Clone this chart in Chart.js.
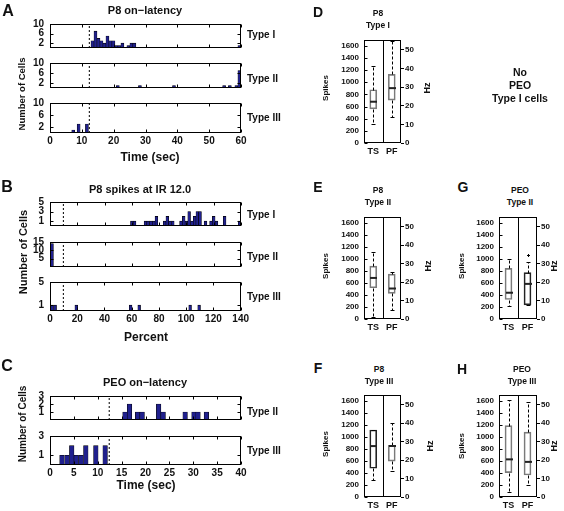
<!DOCTYPE html>
<html>
<head>
<meta charset="utf-8">
<script src="https://cdn.jsdelivr.net/npm/chart.js@4.4.1/dist/chart.umd.min.js"></script>
<style>
  body { margin: 0; width: 564px; height: 511px; background: #fff; position: relative; overflow: hidden;
         font-family: 'Liberation Sans', Arial, Helvetica, sans-serif; font-weight: bold; color: #111; }
  canvas { position: absolute; }
  .t { position: absolute; white-space: nowrap; line-height: 1; transform: translate(-50%, -50%); }
  .l { position: absolute; white-space: nowrap; line-height: 1; transform: translate(0, -50%); }
  .r { transform: translate(-50%, -50%) rotate(-90deg); }
</style>
</head>
<body>
<script>
// ---- A: P8 on-latency (sec), one array per cell type ----
var aTime1 = [13.35, 14.29, 15.23, 16.17, 17.11, 18.05, 18.99, 19.93, 20.87, 21.81, 22.75, 24.63, 25.57, 26.51, 59.5];
var aCells1 = [3, 7, 4, 3, 2, 5, 3, 3, 1, 1, 2, 1, 2, 2, 1];
var aTime2 = [21.3, 28.25, 38.95, 54.7, 56.5, 58.55, 59.5];
var aCells2 = [1, 1, 1, 1, 1, 1, 7];
var aTime3 = [7.3, 9.0, 11.6];
var aCells3 = [1, 3, 3];
var aOnset = 12.35;
var aTimeTicks = [0, 10, 20, 30, 40, 50, 60];
var aCellTicks = [2, 6, 10];

// ---- B: P8 spikes at IR 12.0 (percent) ----
var bPct1 = [60, 62, 70, 72, 74, 76, 78, 84, 86, 88, 90, 96, 98, 100, 102, 104, 106, 108, 110, 114, 118, 120, 122, 128, 139];
var bCells1 = [1, 1, 1, 1, 1, 1, 2, 1, 2, 1, 1, 1, 2, 1, 3, 1, 2, 3, 3, 1, 1, 2, 1, 2, 1];
var bPct2 = [1.5];
var bCells2 = [14];
var bPct3 = [1.6, 3.8, 19.3, 59.2, 65.5, 102.9, 109.5];
var bCells3 = [1, 1, 1, 1, 1, 1, 1];
var bOnset = 9.8;
var bPctTicks = [0, 20, 40, 60, 80, 100, 120, 140];
var bCellTicks1 = [1, 3, 5];
var bCellTicks2 = [5, 10, 15];

// ---- C: PEO on-latency (sec) ----
var cTime1 = [15.7, 16.65, 18.35, 19.3, 22.75, 23.7, 28.3, 30.15, 31.0, 32.75];
var cCells1 = [1, 2, 1, 1, 2, 1, 1, 1, 1, 1];
var cTime2 = [2.5, 3.55, 4.55, 5.5, 6.5, 7.5, 9.6, 11.55];
var cCells2 = [1, 1, 2, 1, 1, 2, 2, 2];
var cOnset = 12.4;
var cTimeTicks = [0, 5, 10, 15, 20, 25, 30, 35, 40];
var cCellTicks = [1, 2, 3];

// ---- D-H: box plots, [min, q1, median, q3, max]; TS in spikes, PF in Hz ----
var boxGroups = ['TS', 'PF'];
var dTS = [308, 563, 680, 877, 1275], dPF = [13.8, 23, 29.4, 36.8, 54.6];
var eTS = [30, 520, 683, 880, 1110], ePF = [4.7, 13.9, 16.5, 24.3, 25.7];
var fTS = [282, 478, 847, 1115, 1119], fPF = [13.8, 19.4, 27.6, 27.9, 40];
var gTS = [210, 324, 437, 842, 998], gPF = [7.6, 7.6, 19, 25.1, 30.7];
var gPFOutliers = [34.4];
var hTS = [81, 405, 626, 1187, 1608], hPF = [6.5, 11.9, 19, 35.1, 51.3];
var spikeTicks = [0, 200, 400, 600, 800, 1000, 1200, 1400, 1600];
var hzTicks = [0, 5, 10, 15, 20, 25, 30, 35, 40, 45, 50];
var spikeMax = 1700, hzMax = 55.3;

var FONT = "'Liberation Sans', Arial, Helvetica, sans-serif";
var INK = '#111';
function font(size) { return { family: FONT, size: size, weight: 'bold' }; }
function fixTicks(list) { return function (s) { s.ticks = list.map(function (v) { return { value: v }; }); }; }
function plain(v) { return String(v); }

// plot box with MATLAB-like inward tick marks
var framePlugin = {
  id: 'frame',
  afterDatasetsDraw: function (chart, args, o) {
    var a = chart.chartArea, ctx = chart.ctx;
    var L = Math.round(a.left) + 0.5, R = Math.round(a.right) - 0.5;
    var T = Math.round(a.top) + 0.5, B = Math.round(a.bottom) - 0.5;
    ctx.save();
    ctx.strokeStyle = '#000';
    ctx.lineWidth = 1;
    ctx.strokeRect(L, T, R - L, B - T);
    ctx.beginPath();
    if (o.xTicks) {
      chart.scales.x.ticks.forEach(function (t) {
        var p = Math.round(chart.scales.x.getPixelForValue(t.value)) + 0.5;
        ctx.moveTo(p, B); ctx.lineTo(p, B - 3);
        ctx.moveTo(p, T); ctx.lineTo(p, T + 3);
      });
    }
    if (o.yTicks) {
      chart.scales.y.ticks.forEach(function (t) {
        var p = Math.round(chart.scales.y.getPixelForValue(t.value)) + 0.5;
        ctx.moveTo(L, p); ctx.lineTo(L + 3, p);
        if (o.bothSides) { ctx.moveTo(R, p); ctx.lineTo(R - 3, p); }
      });
    }
    if (o.divider) {
      var m = Math.round((chart.scales.x.getPixelForValue(0) + chart.scales.x.getPixelForValue(1)) / 2) + 0.5;
      ctx.moveTo(m, T); ctx.lineTo(m, B);
    }
    ctx.stroke();
    ctx.restore();
  }
};

// whiskers, caps, medians and outliers on top of the floating-bar boxes
var whiskerPlugin = {
  id: 'whiskers',
  afterDatasetsDraw: function (chart) {
    var ctx = chart.ctx, xs = chart.scales.x;
    chart.data.datasets.forEach(function (ds) {
      if (!ds.stats) return;
      var ys = chart.scales[ds.yAxisID], s = ds.stats;
      var cx = Math.round(xs.getPixelForValue(ds.slot)) + 0.5;
      var py = function (v) { return Math.round(ys.getPixelForValue(v)) + 0.5; };
      ctx.save();
      ctx.strokeStyle = '#000';
      ctx.lineWidth = 1;
      ctx.setLineDash([3, 2]);
      ctx.beginPath();
      ctx.moveTo(cx, py(s[1])); ctx.lineTo(cx, py(s[0]));
      ctx.moveTo(cx, py(s[3])); ctx.lineTo(cx, py(s[4]));
      ctx.stroke();
      ctx.setLineDash([]);
      ctx.beginPath();
      ctx.moveTo(cx - 2, py(s[0])); ctx.lineTo(cx + 2, py(s[0]));
      ctx.moveTo(cx - 2, py(s[4])); ctx.lineTo(cx + 2, py(s[4]));
      (ds.out || []).forEach(function (v) {
        var p = py(v);
        ctx.moveTo(cx - 1.5, p); ctx.lineTo(cx + 1.5, p);
        ctx.moveTo(cx, p - 1.5); ctx.lineTo(cx, p + 1.5);
      });
      ctx.stroke();
      ctx.strokeStyle = '#222';
      ctx.lineWidth = 2;
      ctx.beginPath();
      ctx.moveTo(cx - 3.5, ys.getPixelForValue(s[2])); ctx.lineTo(cx + 3.5, ys.getPixelForValue(s[2]));
      ctx.stroke();
      ctx.restore();
    });
  }
};

// canvas whose chart area lands exactly on box (page coords); pad = [left, top, right, bottom]
function chartAt(box, pad, hasRightAxis, cfg) {
  var c = document.createElement('canvas');
  var w = box.w + pad[0] + pad[2], h = box.h + pad[1] + pad[3];
  c.width = w; c.height = h;
  c.style.left = (box.x - pad[0]) + 'px';
  c.style.top = (box.y - pad[1]) + 'px';
  c.style.width = w + 'px';
  c.style.height = h + 'px';
  document.body.appendChild(c);
  cfg.options.responsive = false;
  cfg.options.animation = false;
  cfg.options.devicePixelRatio = 1;
  cfg.options.layout = { padding: { left: 0, top: pad[1], right: hasRightAxis ? 0 : pad[2], bottom: 0 } };
  cfg.options.plugins.legend = { display: false };
  cfg.options.plugins.tooltip = { enabled: false };
  cfg.plugins = [framePlugin, whiskerPlugin];
  return new Chart(c, cfg);
}

function histPanel(box, xs, counts, xRange, binWidth, yMax, yTicks, xTicks, onset, showX) {
  var pad = [40, 8, 10, showX ? 16 : 8];
  var thick = box.w * binWidth / (xRange[1] - xRange[0]);
  return chartAt(box, pad, false, {
    type: 'bar',
    data: {
      datasets: [{
        data: xs.map(function (x, i) { return { x: x, y: counts[i] }; }),
        backgroundColor: '#20208e',
        borderColor: '#000',
        borderWidth: 0.6,
        barThickness: thick
      }, {
        type: 'line',
        data: [{ x: onset, y: 0 }, { x: onset, y: yMax }],
        borderColor: '#000',
        borderWidth: 1,
        borderDash: [2, 2],
        pointRadius: 0
      }]
    },
    options: {
      scales: {
        x: {
          type: 'linear', min: xRange[0], max: xRange[1], offset: false,
          afterBuildTicks: fixTicks(xTicks),
          ticks: { display: showX, font: font(10), color: INK, padding: 2, maxRotation: 0, autoSkip: false, callback: plain },
          grid: { display: false, drawTicks: false, offset: false }, border: { display: false },
          afterFit: function (s) { s.height = pad[3]; }
        },
        y: {
          min: 0, max: yMax,
          afterBuildTicks: fixTicks(yTicks),
          ticks: { font: font(10), color: INK, padding: 6, callback: plain },
          grid: { display: false, drawTicks: false }, border: { display: false },
          afterFit: function (s) { s.width = pad[0]; }
        }
      },
      plugins: { frame: { xTicks: true, yTicks: true, bothSides: true } }
    }
  });
}

function boxStyle(edge) {
  return { backgroundColor: 'rgba(0,0,0,0)', borderColor: edge, borderWidth: 1, borderSkipped: false,
           barThickness: 7, grouped: false };
}

function boxPanel(box, ts, pf, pfOut, edges) {
  var pad = [36, 6, 24, 18];
  var tsSet = Object.assign({ data: [[ts[1], ts[3]], null], yAxisID: 'y', stats: ts, slot: 0 }, boxStyle(edges[0]));
  var pfSet = Object.assign({ data: [null, [pf[1], pf[3]]], yAxisID: 'y2', stats: pf, out: pfOut, slot: 1 }, boxStyle(edges[1]));
  return chartAt(box, pad, true, {
    type: 'bar',
    data: { labels: boxGroups, datasets: [tsSet, pfSet] },
    options: {
      scales: {
        x: {
          type: 'category', offset: true,
          ticks: { font: font(9), color: INK, padding: 3 },
          grid: { display: false, drawTicks: false }, border: { display: false },
          afterFit: function (s) { s.height = pad[3]; }
        },
        y: {
          position: 'left', min: 0, max: spikeMax,
          afterBuildTicks: fixTicks(spikeTicks),
          ticks: { font: font(8), color: INK, padding: 5, callback: plain },
          grid: { display: false, drawTicks: false }, border: { display: false },
          afterFit: function (s) { s.width = pad[0]; }
        },
        y2: {
          position: 'right', min: 0, max: hzMax,
          afterBuildTicks: fixTicks(hzTicks),
          ticks: { font: font(8), color: INK, padding: 1,
                   callback: function (v) { return v % 10 === 0 ? String(v) : ''; } },
          grid: { display: true, drawOnChartArea: false, drawTicks: true, tickLength: 3, color: '#000' },
          border: { display: false },
          afterFit: function (s) { s.width = pad[2]; }
        }
      },
      plugins: { frame: { yTicks: true, divider: true } }
    }
  });
}

function text(s, x, y, size, cls) {
  var d = document.createElement('div');
  d.className = cls || 't';
  d.textContent = s;
  d.style.left = x + 'px';
  d.style.top = y + 'px';
  d.style.fontSize = size + 'px';
  document.body.appendChild(d);
}

// A
histPanel({ x: 50, y: 20, w: 191, h: 32 }, aTime1, aCells1, [0, 60], 0.94, 10, aCellTicks, aTimeTicks, aOnset, false);
histPanel({ x: 50, y: 59, w: 191, h: 33 }, aTime2, aCells2, [0, 60], 0.94, 10, aCellTicks, aTimeTicks, aOnset, false);
histPanel({ x: 50, y: 99, w: 191, h: 34 }, aTime3, aCells3, [0, 60], 0.94, 10, aCellTicks, aTimeTicks, aOnset, true);
// B
histPanel({ x: 50, y: 198, w: 191, h: 32 }, bPct1, bCells1, [0, 140], 2, 5, bCellTicks1, bPctTicks, bOnset, false);
histPanel({ x: 50, y: 238, w: 191, h: 33 }, bPct2, bCells2, [0, 140], 2, 15, bCellTicks2, bPctTicks, bOnset, false);
histPanel({ x: 50, y: 278, w: 191, h: 33 }, bPct3, bCells3, [0, 140], 2, 5, bCellTicks1, bPctTicks, bOnset, true);
// C
histPanel({ x: 50, y: 392, w: 191, h: 32 }, cTime1, cCells1, [0, 40], 0.95, 3, cCellTicks, cTimeTicks, cOnset, false);
histPanel({ x: 50, y: 432, w: 191, h: 33 }, cTime2, cCells2, [0, 40], 0.95, 3, cCellTicks, cTimeTicks, cOnset, true);
// D-H
var grey = '#7a7a7a', dark = '#222';
boxPanel({ x: 364, y: 36, w: 37, h: 107 }, dTS, dPF, [], [grey, grey]);
boxPanel({ x: 364, y: 213, w: 37, h: 106 }, eTS, ePF, [], [grey, grey]);
boxPanel({ x: 364, y: 391, w: 37, h: 106 }, fTS, fPF, [], [dark, grey]);
boxPanel({ x: 499, y: 213, w: 38, h: 106 }, gTS, gPF, gPFOutliers, [grey, dark]);
boxPanel({ x: 499, y: 391, w: 38, h: 106 }, hTS, hPF, [], [grey, grey]);

// labels, left column
text('A', 8, 11, 16);
text('P8 on\u2212latency', 145, 10, 11);
text('Type I', 247, 35, 10, 'l');
text('Type II', 247, 79, 10, 'l');
text('Type III', 247, 118, 10, 'l');
text('Number of Cells', 22, 94, 9.5, 't r');
text('Time (sec)', 150, 157, 12);

text('B', 7, 187, 16);
text('P8 spikes at IR 12.0', 140, 189, 11);
text('Type I', 247, 215, 10, 'l');
text('Type II', 247, 257, 10, 'l');
text('Type III', 247, 297, 10, 'l');
text('Number of Cells', 23, 252, 11, 't r');
text('Percent', 146, 337, 12);

text('C', 7, 366, 16);
text('PEO on\u2212latency', 145, 382, 11);
text('Type II', 247, 412, 10, 'l');
text('Type III', 247, 451, 10, 'l');
text('Number of Cells', 23, 424, 10, 't r');
text('Time (sec)', 146, 485, 12);

// labels, right columns
text('D', 318, 12, 14);
text('P8', 378, 13, 8.5);
text('Type I', 378, 25, 8.5);
text('Spikes', 326, 88, 8, 't r');
text('Hz', 427, 88, 9, 't r');

text('E', 318, 187, 14);
text('P8', 378, 190, 8.5);
text('Type II', 378, 202, 8.5);
text('Spikes', 326, 266, 8, 't r');
text('Hz', 428, 266, 9, 't r');

text('F', 318, 368, 14);
text('P8', 379, 369, 8.5);
text('Type III', 379, 381, 8.5);
text('Spikes', 326, 444, 8, 't r');
text('Hz', 430, 446, 9, 't r');

text('G', 463, 187, 14);
text('PEO', 520, 190, 8.5);
text('Type II', 520, 202, 8.5);
text('Spikes', 462, 266, 8, 't r');
text('Hz', 554, 266, 9, 't r');

text('H', 462, 369, 14);
text('PEO', 522, 369, 8.5);
text('Type III', 522, 381, 8.5);
text('Spikes', 462, 446, 8, 't r');
text('Hz', 554, 446, 9, 't r');

text('No', 520, 72, 10.5);
text('PEO', 520, 85, 10.5);
text('Type I cells', 520, 98, 10.5);
</script>
</body>
</html>
